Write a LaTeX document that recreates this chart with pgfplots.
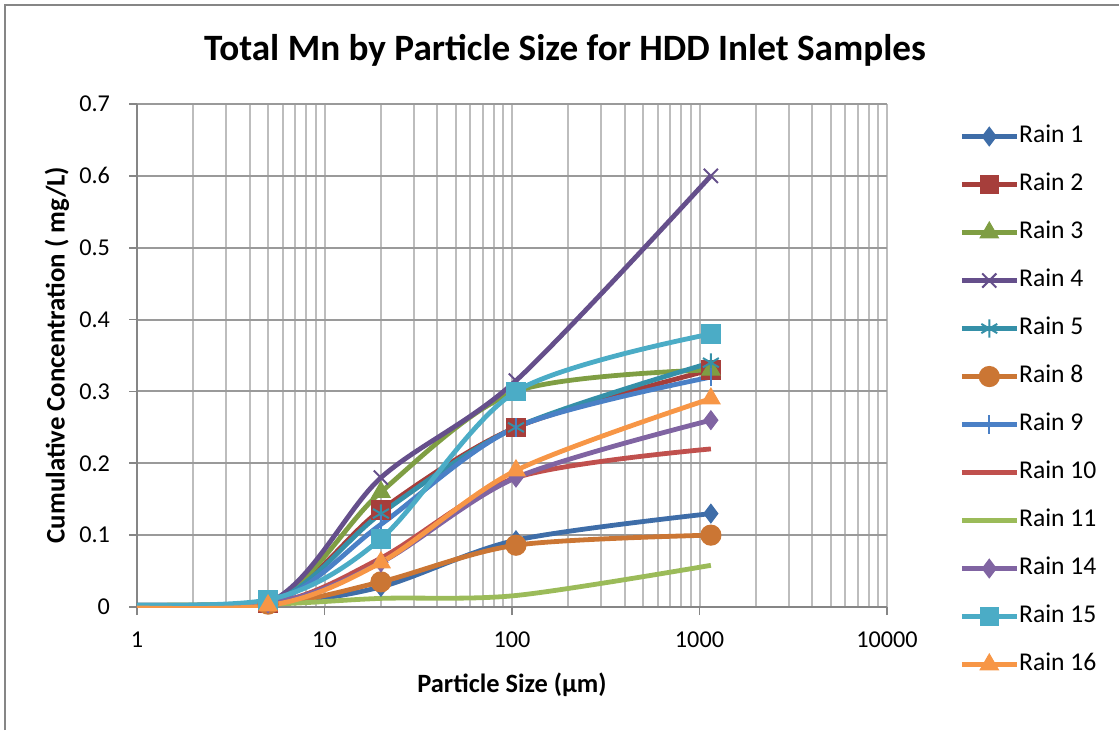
\documentclass[border=0pt]{standalone}
\usepackage{fontspec}
\setmainfont{Carlito}
\usepackage{pgfplots}
\pgfplotsset{compat=1.18}
\definecolor{cR1}{HTML}{3E6DA8}
\definecolor{cR2}{HTML}{A63E3B}
\definecolor{cR3}{HTML}{7F9E43}
\definecolor{cR4}{HTML}{654F8B}
\definecolor{cR5}{HTML}{3590A8}
\definecolor{cR8}{HTML}{CB7634}
\definecolor{cR9}{HTML}{4A80C6}
\definecolor{cR10}{HTML}{C0504D}
\definecolor{cR11}{HTML}{9BBB59}
\definecolor{cR14}{HTML}{8064A2}
\definecolor{cR15}{HTML}{4BACC6}
\definecolor{cR16}{HTML}{F79646}
\definecolor{gmaj}{HTML}{9A9A9A}
\definecolor{gmin}{HTML}{BDBDBD}
\definecolor{axc}{HTML}{868686}
\begin{document}
\begin{tikzpicture}
\path[use as bounding box] (0,0) rectangle (559.5pt,365pt);
\draw[color=axc,line width=1pt] (2.5pt,0) -- (2.5pt,362.5pt) -- (559.5pt,362.5pt);
\begin{axis}[
  at={(68.5pt,61.5pt)}, anchor=south west,
  scale only axis, width=375pt, height=251.5pt,
  xmode=log, xmin=1, xmax=10000, ymin=0, ymax=0.7,
  xtick={1,10,100,1000,10000},
  xticklabels={\mbox{1},\mbox{10},\mbox{100},\mbox{1000},\mbox{10000}},
  ytick={0,0.1,0.2,0.3,0.4,0.5,0.6,0.7},
  yticklabels={\mbox{0},\mbox{0.1},\mbox{0.2},\mbox{0.3},\mbox{0.4},\mbox{0.5},\mbox{0.6},\mbox{0.7}},
  axis lines*=left,
  axis line style={color=axc,line width=1pt},
  tick align=outside, tick pos=left,
  major tick length=4pt, minor tick length=0pt,
  tick style={color=axc,line width=0.8pt},
  xmajorgrids, xminorgrids, ymajorgrids,
  major grid style={line width=1pt},
  minor grid style={line width=1pt},
  every axis x grid/.append style={color=gmin},
  every axis y grid/.append style={color=gmaj},
  ticklabel style={font=\fontsize{12.1}{14}\selectfont},
  xticklabel style={yshift=-5pt},
  yticklabel style={xshift=-6pt},
  title={Total Mn by Particle Size for HDD Inlet Samples},
  title style={at={(rel axis cs:0.5707,1.083)},anchor=center,yshift=0pt,font=\fontsize{18.6}{22}\selectfont\bfseries},
  xlabel={Particle Size (µm)},
  xlabel style={at={(rel axis cs:0.5,-0.155)},anchor=center,font=\fontsize{13.2}{15}\selectfont\bfseries},
  ylabel={Cumulative Concentration ( mg/L)},
  ylabel style={at={(rel axis cs:-0.1067,0.501)},anchor=center,rotate=0,font=\fontsize{13.4}{15}\selectfont\bfseries},
  legend style={at={(rel axis cs:1.0960,0.957)},anchor=north west,draw=none,fill=none,
    font=\fontsize{12.8}{15}\selectfont, row sep=13.5pt, inner sep=0pt,
    nodes={inner sep=0pt, text height=8pt, text depth=2.5pt}},
  legend cell align=left,
  legend image code/.code={\draw[mark indices={2}] plot coordinates {(0pt,0pt) (13.75pt,0pt) (27.5pt,0pt)};},
  every axis plot/.append style={line width=2.4pt, smooth},
  mark options={solid,line width=0.6pt},
]
\addplot[color=cR1, mark=diamond*, mark size=4.6pt, mark indices={1,2,3,4}] coordinates {(0.45,0.003) (5,0.005) (20,0.028) (105,0.093) (1150,0.13)};
\addlegendentry{Rain 1}
\addplot[color=cR2, mark=square*, mark size=4.6pt, mark indices={1,2,3,4}] coordinates {(0.45,0.003) (5,0.005) (20,0.135) (105,0.25) (1150,0.33)};
\addlegendentry{Rain 2}
\addplot[color=cR3, mark=triangle*, mark size=5.2pt, mark indices={1,2,3,4}] coordinates {(0.45,0.003) (5,0.005) (20,0.16) (105,0.30) (1150,0.33)};
\addlegendentry{Rain 3}
\addplot[color=cR4, mark=x, mark size=5pt, mark options={line width=1pt}, mark indices={1,2,3,4}] coordinates {(0.45,0.004) (5,0.006) (20,0.18) (105,0.315) (1150,0.60)};
\addlegendentry{Rain 4}
\addplot[color=cR5, mark=asterisk, mark size=4.6pt, mark options={line width=1pt}, mark indices={1,2,3,4}] coordinates {(0.45,0.003) (5,0.005) (20,0.13) (105,0.25) (1150,0.34)};
\addlegendentry{Rain 5}
\addplot[color=cR8, mark=*, mark size=5pt, mark indices={1,2,3,4}] coordinates {(0.45,0.002) (5,0.004) (20,0.035) (105,0.086) (1150,0.10)};
\addlegendentry{Rain 8}
\addplot[color=cR9, mark=|, mark size=4.6pt, mark options={line width=1pt}, mark indices={1,2,3,4}] coordinates {(0.45,0.003) (5,0.005) (20,0.115) (105,0.25) (1150,0.32)};
\addlegendentry{Rain 9}
\addplot[color=cR10, no marks] coordinates {(0.45,0.002) (5,0.004) (20,0.068) (105,0.18) (1150,0.22)};
\addlegendentry{Rain 10}
\addplot[color=cR11, no marks] coordinates {(0.45,0.002) (5,0.004) (20,0.012) (105,0.016) (1150,0.058)};
\addlegendentry{Rain 11}
\addplot[color=cR14, mark=diamond*, mark size=4.6pt, mark indices={1,2,3,4}] coordinates {(0.45,0.003) (5,0.005) (20,0.062) (105,0.18) (1150,0.26)};
\addlegendentry{Rain 14}
\addplot[color=cR15, mark=square*, mark size=4.6pt, mark indices={1,2,3,4}] coordinates {(0.45,0.004) (5,0.01) (20,0.095) (105,0.30) (1150,0.38)};
\addlegendentry{Rain 15}
\addplot[color=cR16, mark=triangle*, mark size=5.2pt, mark indices={1,2,3,4}] coordinates {(0.45,0.001) (5,0.002) (20,0.062) (105,0.19) (1150,0.29)};
\addlegendentry{Rain 16}
\end{axis}
\end{tikzpicture}
\end{document}
